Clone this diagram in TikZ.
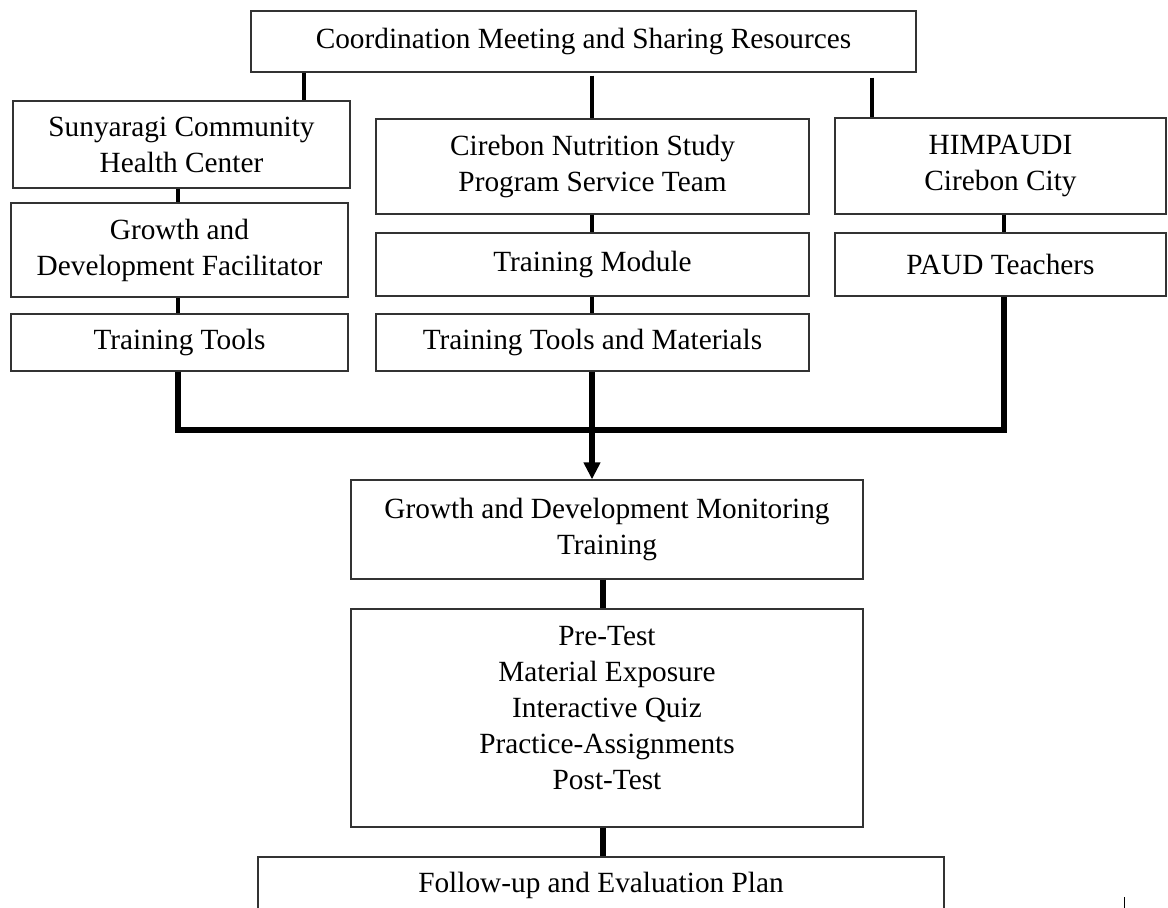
\documentclass[tikz,border=0pt]{standalone}
\usepackage{fontspec}
\setmainfont{Liberation Serif}
\usetikzlibrary{arrows.meta}
\begin{document}
\begin{tikzpicture}[x=1pt,y=-1pt,
  box/.style={draw=black!80, line width=1.3pt, align=center, inner sep=0pt,
    font=\fontsize{29.3}{36}\selectfont},
  conn/.style={line width=4.2pt, black},
  connb/.style={line width=5.2pt, black},
]
\useasboundingbox (0,0) rectangle (1168,908);
\clip (0,0) rectangle (1168,908);
\fill[white] (0,0) rectangle (1168,908);

\node[box, minimum width=665pt, minimum height=61pt] (top) at (583.5,41.5) {Coordination Meeting and Sharing Resources};

\node[box, minimum width=337pt, minimum height=87pt] (sun) at (181.5,144.5) {Sunyaragi Community\\Health Center};
\node[box, minimum width=337pt, minimum height=94pt] (gdf) at (179.5,250) {Growth and\\Development Facilitator};
\node[box, minimum width=337pt, minimum height=57pt] (tt) at (179.5,342.5) {Training Tools};

\node[box, minimum width=433pt, minimum height=95pt] (cir) at (592.5,166.5) {Cirebon Nutrition Study\\Program Service Team};
\node[box, minimum width=433pt, minimum height=63pt] (tm) at (592.5,264.5) {Training Module};
\node[box, minimum width=433pt, minimum height=57pt] (ttm) at (592.5,342.5) {Training Tools and Materials};

\node[box, minimum width=331pt, minimum height=96pt] (him) at (1000.5,166) {HIMPAUDI\\Cirebon City};
\node[box, minimum width=331pt, minimum height=63pt] (paud) at (1000.5,264.5) {PAUD Teachers};

\node[box, minimum width=512pt, minimum height=99pt] (gdm) at (607,529.5) {Growth and Development Monitoring\\Training};
\node[box, minimum width=512pt, minimum height=218pt, text depth=20pt] (pre) at (607,718) {Pre-Test\\Material Exposure\\Interactive Quiz\\Practice-Assignments\\Post-Test};
\node[box, minimum width=686pt, minimum height=57pt] (fol) at (601,885.5) {Follow-up and Evaluation Plan};

\coordinate (xa) at (304,0);
\coordinate (xc) at (872,0);
\coordinate (xl) at (178,0);
\coordinate (xr) at (1004,0);
\coordinate (xd) at (603,0);
\coordinate (j) at (592,430);

\draw[conn] (xa |- top.south) -- (xa |- sun.north);
\draw[conn] ([yshift=-3pt]j |- top.south) -- (j |- cir.north);
\draw[conn] ([yshift=-5pt]xc |- top.south) -- (xc |- him.north);

\draw[conn] (xl |- sun.south) -- (xl |- gdf.north);
\draw[conn] (xl |- gdf.south) -- (xl |- tt.north);
\draw[conn] (j |- cir.south) -- (j |- tm.north);
\draw[conn] (j |- tm.south) -- (j |- ttm.north);
\draw[conn] (xr |- him.south) -- (xr |- paud.north);

\draw[connb] (xl |- tt.south) |- (j) -| (xr |- paud.south);
\draw[connb, -{Triangle[width=16pt,length=17pt]}] (j |- ttm.south) -- (j |- gdm.north);
\draw[connb] (xd |- gdm.south) -- (xd |- pre.north);
\draw[connb] (xd |- pre.south) -- (xd |- fol.north);

\coordinate (m1) at (1124,897);
\coordinate (m2) at (1124,908);
\draw[line width=1pt] (m1) -- (m2);
\end{tikzpicture}
\end{document}
